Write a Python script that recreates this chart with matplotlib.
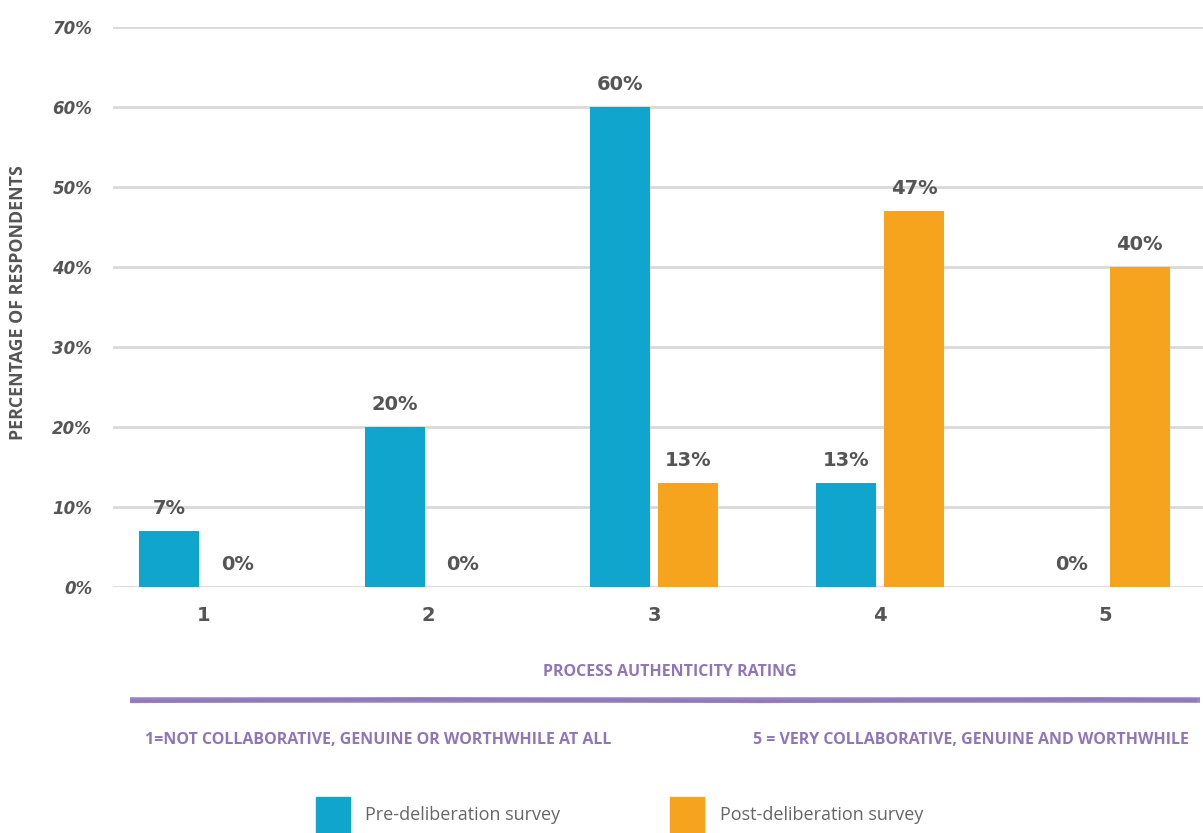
import matplotlib
matplotlib.use("Agg")
import matplotlib.pyplot as plt
from matplotlib.patches import Rectangle
from matplotlib.lines import Line2D

categories = ["1", "2", "3", "4", "5"]
pre_values = [7, 20, 60, 13, 0]
post_values = [0, 0, 13, 47, 40]
pre_labels = ["7%", "20%", "60%", "13%", "0%"]
post_labels = ["0%", "0%", "13%", "47%", "40%"]
yticks = [0, 10, 20, 30, 40, 50, 60, 70]
ytick_labels = ["0%", "10%", "20%", "30%", "40%", "50%", "60%", "70%"]

BLUE = "#0fa5cd"
ORANGE = "#f6a31e"
PURPLE = "#8f76b9"
GRAY = "#555555"
GRID = "#d9d9d9"

W, H = 1203, 833
fig = plt.figure(figsize=(W / 100, H / 100), dpi=100)
ax = fig.add_axes([113 / W, 1 - 587 / H, 1 - 113 / W, (587 - 27) / H])

x = list(range(len(categories)))
bw = 0.266
off = 0.1507
ax.bar([i - off for i in x], pre_values, width=bw, color=BLUE, zorder=3)
ax.bar([i + off for i in x], post_values, width=bw, color=ORANGE, zorder=3)

for i in x:
    ax.text(i - off, pre_values[i] + 1.6, pre_labels[i], ha="center", va="bottom",
            fontsize=14, fontweight="bold", color=GRAY)
    ax.text(i + off, post_values[i] + 1.6, post_labels[i], ha="center", va="bottom",
            fontsize=14, fontweight="bold", color=GRAY)

ax.set_xlim(-0.400, 4.432)
ax.set_ylim(0, 70)
ax.set_yticks(yticks)
ax.set_yticklabels(ytick_labels, fontsize=12, fontweight="bold", color=GRAY, fontstyle="italic")
ax.set_xticks(x)
ax.set_xticklabels(categories, fontsize=14, fontweight="bold", color=GRAY)
ax.tick_params(axis="both", length=0)
ax.tick_params(axis="y", pad=15)
ax.tick_params(axis="x", pad=14)
ax.grid(axis="y", color=GRID, linewidth=2, zorder=0)
for s in ax.spines.values():
    s.set_visible(False)

fig.text(18 / W, 1 - 303 / H, "PERCENTAGE OF RESPONDENTS", rotation=90, ha="center", va="center",
         fontsize=12.8, fontweight="bold", color=GRAY, family="Open Sans")

fig.text(670 / W, 1 - 672 / H, "PROCESS AUTHENTICITY RATING", ha="center", va="center",
         fontsize=11.5, fontweight="bold", color=PURPLE, family="Open Sans")

# brush stroke
fig.add_artist(Line2D([130 / W, 1200 / W], [1 - 700 / H, 1 - 700 / H], color=PURPLE,
                      linewidth=4, solid_capstyle="butt", alpha=0.9))
fig.add_artist(Line2D([132 / W, 420 / W, 760 / W, 1100 / W, 1195 / W],
                      [1 - 701.5 / H, 1 - 699 / H, 1 - 701.5 / H, 1 - 699 / H, 1 - 700.5 / H],
                      color=PURPLE, linewidth=2.5, alpha=0.7))

fig.text(378 / W, 1 - 740 / H, "1=NOT COLLABORATIVE, GENUINE OR WORTHWHILE AT ALL", ha="center",
         va="center", fontsize=11.5, fontweight="bold", color=PURPLE, family="Open Sans")
fig.text(971 / W, 1 - 740 / H, "5 = VERY COLLABORATIVE, GENUINE AND WORTHWHILE", ha="center",
         va="center", fontsize=11.5, fontweight="bold", color=PURPLE, family="Open Sans")

# legend
fig.add_artist(Rectangle((316 / W, 0), 34 / W, 36 / H, color=BLUE, transform=fig.transFigure))
fig.text(365 / W, 1 - 815 / H, "Pre-deliberation survey", ha="left", va="center",
         fontsize=13, color="#666666", family="Open Sans")
fig.add_artist(Rectangle((670 / W, 0), 34 / W, 36 / H, color=ORANGE, transform=fig.transFigure))
fig.text(720 / W, 1 - 815 / H, "Post-deliberation survey", ha="left", va="center",
         fontsize=13, color="#666666", family="Open Sans")

fig.savefig("out.png", dpi=100)
